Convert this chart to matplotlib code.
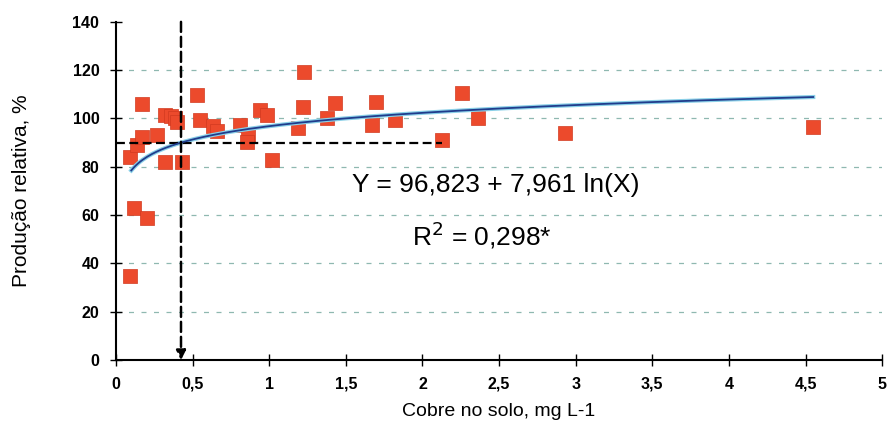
import numpy as np
import matplotlib
matplotlib.use('Agg')
from matplotlib import pyplot as plt

plt.rcParams['font.family'] = ['Liberation Sans', 'DejaVu Sans']

# dados
cobre = [0.09, 0.12, 0.20, 0.09, 0.14, 0.167, 0.17, 0.27, 0.32, 0.36, 0.385, 0.40,
         0.32, 0.43, 0.53, 0.55, 0.63, 0.66, 0.81, 0.86, 0.855, 0.94, 0.985, 1.02,
         1.19, 1.22, 1.23, 1.38, 1.43, 1.67, 1.70, 1.82, 2.13, 2.26, 2.36, 2.93, 4.55]
producao = [34.8, 63, 58.8, 84, 89, 92.5, 106, 93.2, 101.5, 101, 100, 98.6,
            82, 82, 109.7, 99.4, 97, 95, 97.3, 93, 90.3, 103.6, 101.5, 82.8,
            96, 104.8, 119.3, 100.2, 106.5, 97.3, 106.9, 99.4, 91, 110.6, 100.2, 94, 96.5]

a, b = 96.823, 7.961
x_crit = np.exp((90 - a) / b)

xticks = [0, 0.5, 1, 1.5, 2, 2.5, 3, 3.5, 4, 4.5, 5]
xlabels = ['0', '0,5', '1', '1,5', '2', '2,5', '3', '3,5', '4', '4,5', '5']
yticks = [0, 20, 40, 60, 80, 100, 120, 140]

fig = plt.figure(figsize=(8.92, 4.37), dpi=100)
ax = fig.add_axes([0.130, 0.176, 0.859, 0.774])

for yv in yticks[1:-1]:
    ax.axhline(yv, color='#8fb8b0', lw=0.9, ls=(0, (4, 6)), zorder=0)

ax.scatter(cobre, producao, marker='s', s=90, color='#ec4a2c', edgecolor='#d23a20',
           lw=0.5, zorder=3)

xc = np.linspace(0.1, 4.55, 300)
ax.plot(xc, a + b * np.log(xc), color='#8ad0e8', lw=3, zorder=4)
ax.plot(xc, a + b * np.log(xc), color='#203c8c', lw=1.3, zorder=5)

ax.plot([0, 2.13], [90, 90], color='black', lw=1.6, ls=(0, (4, 2)), zorder=4)
ax.annotate('', xy=(x_crit, 0), xytext=(x_crit, 140),
            arrowprops=dict(arrowstyle='-|>', color='black', lw=1.8, ls=(0, (4, 2)),
                            mutation_scale=14, shrinkA=0, shrinkB=0), zorder=6)

ax.text(2.477, 69.7, 'Y = 96,823 + 7,961 ln(X)', fontsize=19, ha='center', va='baseline')
ax.text(2.39, 47.6, 'R$^2$ = 0,298*', fontsize=19, ha='center', va='baseline')

ax.set_xlim(0, 5)
ax.set_ylim(0, 140)
ax.set_xticks(xticks)
ax.set_xticklabels(xlabels)
ax.set_yticks(yticks)
ax.tick_params(direction='inout', length=8, width=1, labelsize=11.5, pad=8)
for lbl in ax.get_xticklabels() + ax.get_yticklabels():
    lbl.set_fontweight('bold')
for s in ['top', 'right']:
    ax.spines[s].set_visible(False)
ax.spines['left'].set_linewidth(1.5)
ax.spines['bottom'].set_linewidth(1.5)

ax.set_xlabel('Cobre no solo, mg L-1', fontsize=14, labelpad=8)
ax.set_ylabel('Produção relativa, %', fontsize=15, labelpad=30)

plt.savefig('out.png', dpi=100)
